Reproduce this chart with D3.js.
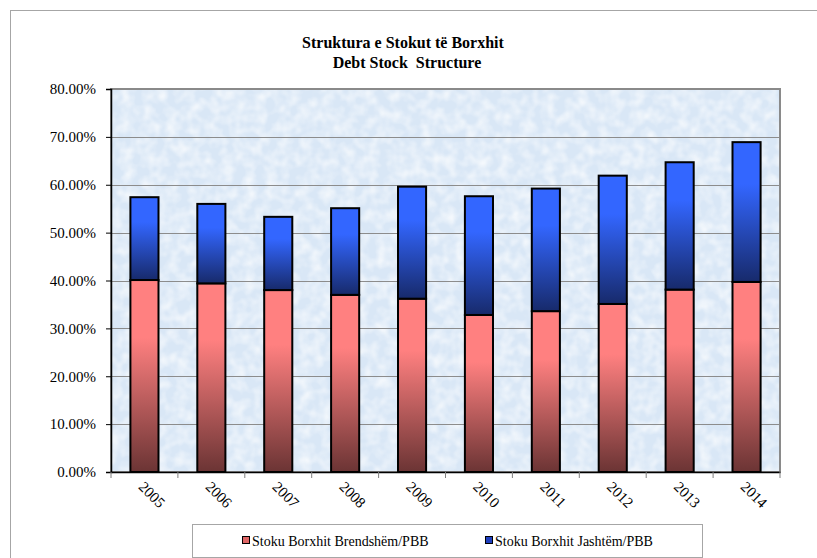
<!DOCTYPE html>
<html>
<head>
<meta charset="utf-8">
<script src="https://cdn.jsdelivr.net/npm/d3@7"></script>
<style>
  body { margin: 0; background: #fff; }
  svg text { font-family: "Liberation Serif", "DejaVu Serif", serif !important; }
</style>
</head>
<body>
<div id="root"></div>
<script>
const years = ["2005", "2006", "2007", "2008", "2009", "2010", "2011", "2012", "2013", "2014"];
const domestic = [40.1, 39.4, 38.0, 37.0, 36.2, 32.8, 33.6, 35.1, 38.1, 39.7];
const external = [17.3, 16.6, 15.3, 18.1, 23.4, 24.8, 25.6, 26.8, 26.6, 29.2];
const yTicks = [0, 10, 20, 30, 40, 50, 60, 70, 80];
const seriesNames = ["Stoku Borxhit Brendshëm/PBB", "Stoku Borxhit Jashtëm/PBB"];

const width = 817;
const height = 558;
const plot = { left: 111, top: 89, right: 780, bottom: 472 };
const serif = "'Liberation Serif', 'DejaVu Serif', serif";

const rows = years.map((year, i) => ({ year: year, dom: domestic[i], ext: external[i] }));
const stacked = d3.stack().keys(["dom", "ext"])(rows);

const x = d3.scaleBand()
    .domain(years)
    .range([plot.left, plot.right])
    .paddingInner(0.58)
    .paddingOuter(0.29);

const y = d3.scaleLinear()
    .domain([0, 80])
    .range([plot.bottom, plot.top]);

const svg = d3.select("#root")
  .append("svg")
    .attr("width", width)
    .attr("height", height)
    .attr("font-family", serif);

const defs = svg.append("defs");

// texture for the plot area
const tex = defs.append("filter")
    .attr("id", "tex")
    .attr("x", 0).attr("y", 0).attr("width", 1).attr("height", 1);
tex.append("feTurbulence")
    .attr("type", "fractalNoise")
    .attr("baseFrequency", 0.09)
    .attr("numOctaves", 2)
    .attr("seed", 4)
    .attr("result", "noise");
tex.append("feColorMatrix")
    .attr("in", "noise")
    .attr("type", "matrix")
    .attr("values", "0 0 0 0 1  0 0 0 0 1  0 0 0 0 1  0 0 0 -1.6 1.05")
    .attr("result", "spots");
tex.append("feComposite")
    .attr("in", "spots")
    .attr("in2", "SourceGraphic")
    .attr("operator", "in");

const gradients = [
  { id: "gDom", top: "#ff8080", bottom: "#6b3434" },
  { id: "gExt", top: "#3366ff", bottom: "#172a6b" }
];
gradients.forEach(g => {
  const lg = defs.append("linearGradient")
      .attr("id", g.id)
      .attr("x1", 0).attr("y1", 0)
      .attr("x2", 0).attr("y2", 1);
  lg.append("stop").attr("offset", "0%").attr("stop-color", g.top);
  lg.append("stop").attr("offset", "30%").attr("stop-color", g.top);
  lg.append("stop").attr("offset", "100%").attr("stop-color", g.bottom);
});

// outer chart frame
svg.append("rect")
    .attr("x", 10.5)
    .attr("y", 10.5)
    .attr("width", 830)
    .attr("height", 580)
    .attr("fill", "none")
    .attr("stroke", "#a6a6a6")
    .attr("stroke-width", 1);

// plot background
svg.append("rect")
    .attr("x", plot.left)
    .attr("y", plot.top)
    .attr("width", plot.right - plot.left)
    .attr("height", plot.bottom - plot.top)
    .attr("fill", "#d9e7f6");
svg.append("rect")
    .attr("x", plot.left)
    .attr("y", plot.top)
    .attr("width", plot.right - plot.left)
    .attr("height", plot.bottom - plot.top)
    .attr("fill", "#eef4fb")
    .attr("filter", "url(#tex)")
    .attr("opacity", 0.8);

// gridlines
svg.append("g")
  .selectAll("line")
    .data(yTicks.filter(d => d > 0 && d < 80))
    .join("line")
      .attr("x1", plot.left)
      .attr("x2", plot.right)
      .attr("y1", d => Math.round(y(d)) + 0.5)
      .attr("y2", d => Math.round(y(d)) + 0.5)
      .attr("stroke", "#8c8c8c")
      .attr("stroke-width", 1);

// plot border
svg.append("rect")
    .attr("x", plot.left)
    .attr("y", plot.top)
    .attr("width", plot.right - plot.left)
    .attr("height", plot.bottom - plot.top)
    .attr("fill", "none")
    .attr("stroke", "#8a8a8a")
    .attr("stroke-width", 2);

// bars
svg.append("g")
  .selectAll("g")
    .data(stacked)
    .join("g")
      .attr("fill", (d, i) => `url(#${gradients[i].id})`)
  .selectAll("rect")
    .data(d => d)
    .join("rect")
      .attr("x", d => x(d.data.year))
      .attr("y", d => y(d[1]))
      .attr("width", x.bandwidth())
      .attr("height", d => y(d[0]) - y(d[1]))
      .attr("stroke", "#000")
      .attr("stroke-width", 2);

// y axis
const yAxis = svg.append("g")
    .attr("transform", `translate(${plot.left},0)`)
    .call(d3.axisLeft(y)
      .tickValues(yTicks)
      .tickSize(5)
      .tickPadding(10)
      .tickFormat(d => d.toFixed(2) + "%"))
    .attr("font-family", serif)
    .attr("font-size", 15);
yAxis.select(".domain").attr("stroke", "#000").attr("stroke-width", 1.5);
yAxis.selectAll(".tick line").attr("stroke", "#000");
yAxis.selectAll("text").attr("fill", "#000");

// x axis
const xAxis = svg.append("g")
    .attr("transform", `translate(0,${plot.bottom})`)
    .call(d3.axisBottom(x).tickSize(0).tickFormat(""));
xAxis.select(".domain").attr("stroke", "#000").attr("stroke-width", 1.5);

const step = x.step();
svg.append("g")
  .selectAll("line")
    .data(d3.range(years.length + 1))
    .join("line")
      .attr("x1", i => plot.left + i * step)
      .attr("x2", i => plot.left + i * step)
      .attr("y1", plot.bottom)
      .attr("y2", plot.bottom + 6)
      .attr("stroke", "#7f7f7f");

svg.append("g")
  .selectAll("text")
    .data(years)
    .join("text")
      .attr("transform", d => `translate(${x(d) + x.bandwidth() / 2 - 3},${plot.bottom + 12}) rotate(45)`)
      .attr("dy", "0.35em")
      .attr("font-size", 15)
      .text(d => d);

// title
const title = svg.append("text")
    .attr("text-anchor", "middle")
    .attr("font-weight", "bold")
    .attr("font-size", 16);
title.append("tspan").attr("x", 403).attr("y", 48).text("Struktura e Stokut të Borxhit");
title.append("tspan").attr("x", 407).attr("y", 68).style("white-space", "pre").text("Debt Stock  Structure");

// legend
const legend = svg.append("g");
legend.append("rect")
    .attr("x", 192.5)
    .attr("y", 524.5)
    .attr("width", 510)
    .attr("height", 33)
    .attr("fill", "#fff")
    .attr("stroke", "#a6a6a6");

const legendX = [242, 485];
const legendColors = ["#e06666", "#1f3fbf"];
const item = legend.selectAll("g.item")
    .data(seriesNames)
    .join("g")
      .attr("class", "item")
      .attr("transform", (d, i) => `translate(${legendX[i]},541)`);
item.append("rect")
    .attr("x", 0.5)
    .attr("y", -4.5)
    .attr("width", 7)
    .attr("height", 7)
    .attr("fill", (d, i) => legendColors[i])
    .attr("stroke", "#000");
item.append("text")
    .attr("x", 10)
    .attr("y", 5)
    .attr("font-size", 14)
    .text(d => d);
</script>
</body>
</html>
